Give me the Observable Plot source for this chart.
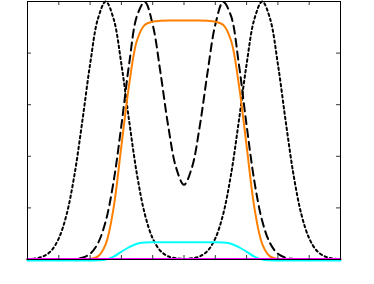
<!DOCTYPE html>
<html>
<head>
<meta charset="utf-8">
<script src="https://cdn.jsdelivr.net/npm/d3@7"></script>
<script src="https://cdn.jsdelivr.net/npm/@observablehq/plot@0.6"></script>
<style>
  html, body { margin: 0; padding: 0; background: #fff; }
  #chart svg { display: block; }
</style>
</head>
<body>
<div id="chart"></div>
<script>
const xs = [0,0.25,0.5,0.75,1,1.25,1.5,1.75,2,2.25,2.5,2.75,3,3.25,3.5,3.75,4,4.25,4.5,4.75,5,5.25,5.5,5.75,6,6.25,6.5,6.75,7,7.25,7.5,7.75,8,8.25,8.5,8.75,9,9.25,9.5,9.75,10];

const dotted = [0.001,0.004,0.012,0.033,0.082,0.175,0.328,0.535,0.757,0.933,1.0,0.933,0.757,0.535,0.328,0.175,0.082,0.033,0.012,0.005,0.002,0.005,0.012,0.033,0.082,0.175,0.328,0.535,0.757,0.933,1.0,0.933,0.757,0.535,0.328,0.175,0.082,0.033,0.012,0.004,0.001];

const dashed = [0,0,0,0,0,0,0.002,0.007,0.022,0.063,0.149,0.302,0.52,0.76,0.945,0.998,0.91,0.723,0.514,0.355,0.29,0.355,0.514,0.723,0.91,0.998,0.945,0.76,0.52,0.302,0.149,0.063,0.022,0.007,0.002,0,0,0,0,0,0];

const orange = [0,0,0,0,0,0,0,0,0.002,0.012,0.06,0.2,0.44,0.68,0.85,0.91,0.922,0.925,0.926,0.926,0.926,0.926,0.926,0.925,0.922,0.91,0.85,0.68,0.44,0.2,0.06,0.012,0.002,0,0,0,0,0,0,0,0];

const cyan = [0,0,0,0,0,0,0,0,0,0.001,0.004,0.015,0.034,0.052,0.065,0.0695,0.0705,0.071,0.071,0.071,0.071,0.071,0.071,0.071,0.0705,0.0695,0.065,0.052,0.034,0.015,0.004,0.001,0,0,0,0,0,0,0,0,0];

const magenta = [0,0,0,0,0,0,0,0,0,0,0,0,0,0,0,0,0,0,0,0,0,0,0,0,0,0,0,0,0,0,0,0,0,0,0,0,0,0,0,0,0];

const xTicks = [0,1,2,3,4,5,6,7,8,9,10];
const yTicks = [0,0.2,0.4,0.6,0.8,1];

const toRows = (vals) => xs.map((x, i) => ({x, y: vals[i]}));

const W = 374, H = 284, mL = 27, mR = 34, mT = 1, mB = 25;
const innerW = W - mL - mR, innerH = H - mT - mB;
const tick = 4;

const chart = Plot.plot({
  width: W,
  height: H,
  marginLeft: mL,
  marginRight: mR,
  marginTop: mT,
  marginBottom: mB,
  x: {domain: [0, 10], axis: null},
  y: {domain: [0, 1], axis: null},
  marks: [
    Plot.line(toRows(dotted), {x: "x", y: "y", stroke: "black", strokeWidth: 2, strokeDasharray: "2.5,3", curve: "catmull-rom"}),
    Plot.line(toRows(dashed), {x: "x", y: "y", stroke: "black", strokeWidth: 2, strokeDasharray: "8,5", curve: "catmull-rom"}),
    Plot.line(toRows(orange), {x: "x", y: "y", stroke: "#ff8000", strokeWidth: 2, curve: "catmull-rom"}),
    Plot.line(toRows(cyan), {x: "x", y: "y", stroke: "#00ffff", strokeWidth: 2, curve: "catmull-rom", dy: 1}),
    Plot.line(toRows(magenta), {x: "x", y: "y", stroke: "#ff00ff", strokeWidth: 2, dy: -0.5}),
    Plot.tickX(xTicks, {x: d => d, stroke: "black", strokeWidth: 0.8, insetTop: innerH - tick}),
    Plot.tickX(xTicks, {x: d => d, stroke: "black", strokeWidth: 0.8, insetBottom: innerH - tick}),
    Plot.tickY(yTicks, {y: d => d, stroke: "black", strokeWidth: 0.8, insetRight: innerW - tick}),
    Plot.tickY(yTicks, {y: d => d, stroke: "black", strokeWidth: 0.8, insetLeft: innerW - tick}),
    Plot.frame({stroke: "black", strokeWidth: 1})
  ]
});
document.getElementById("chart").appendChild(chart);
</script>
</body>
</html>
